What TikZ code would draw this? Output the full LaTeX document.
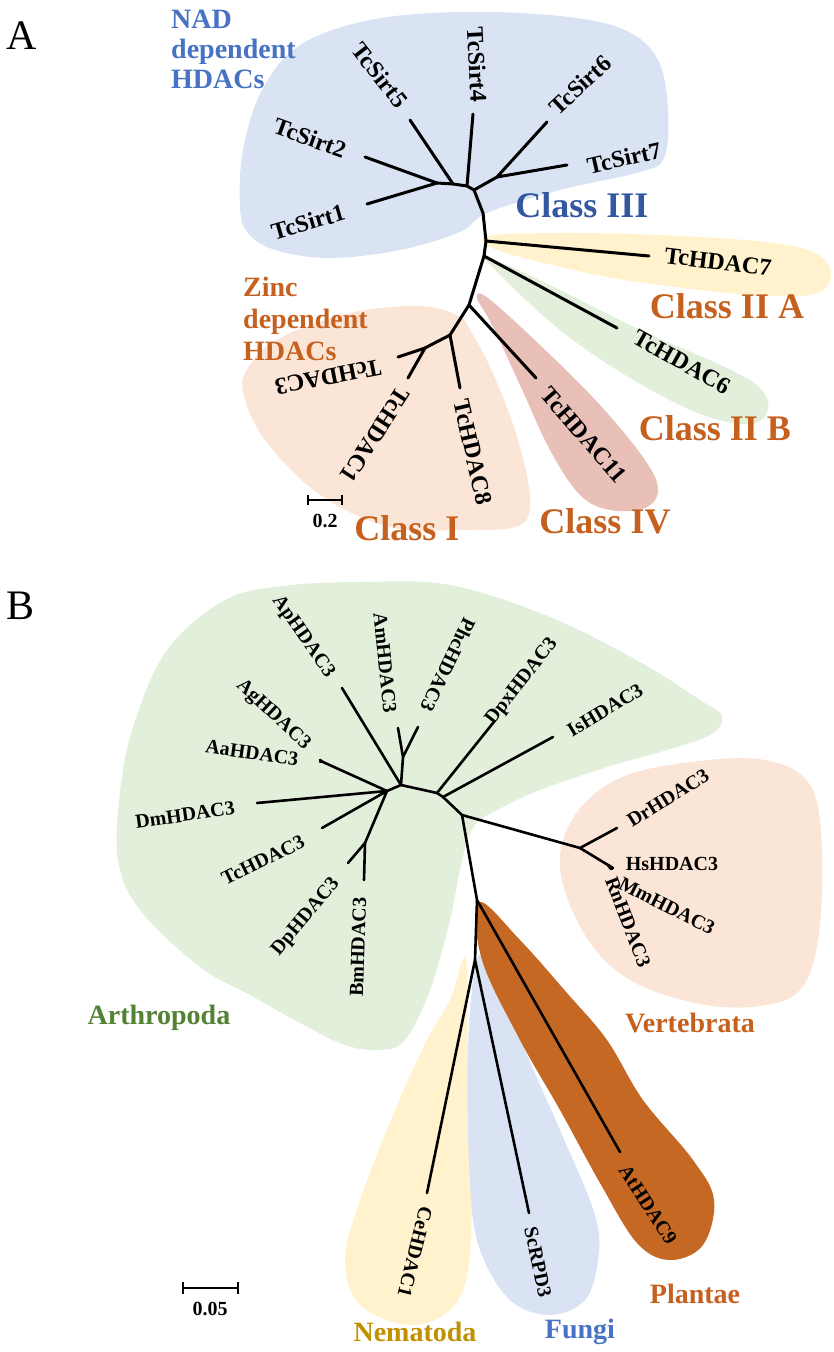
\documentclass[tikz,border=0pt]{standalone}
\usepackage{fontspec}
\setmainfont{Liberation Serif}
\definecolor{fBlue}{RGB}{218,227,243}
\definecolor{fYel}{RGB}{255,242,204}
\definecolor{fGrn}{RGB}{226,239,218}
\definecolor{fPch}{RGB}{251,229,214}
\definecolor{fRose}{RGB}{232,192,184}
\definecolor{fBrn}{RGB}{196,104,36}
\definecolor{tBlue}{RGB}{72,114,196}
\definecolor{tBlueD}{RGB}{52,88,160}
\definecolor{tOr}{RGB}{197,96,30}
\definecolor{tGrn}{RGB}{84,130,53}
\definecolor{tGold}{RGB}{191,144,0}
\begin{document}
\begin{tikzpicture}[x=1pt,y=-1pt,
  br/.style={line width=3pt,line cap=round,line join=round},
  brb/.style={line width=2.6pt,line cap=round,line join=round},
  lfa/.style={inner sep=0pt,font=\fontsize{24}{24}\selectfont\bfseries},
  lfb/.style={inner sep=0pt,font=\fontsize{20}{20}\selectfont\bfseries},
  cls/.style={inner sep=0pt,anchor=base,font=\fontsize{36}{36}\selectfont\bfseries,text=tOr},
  grp/.style={inner sep=0pt,anchor=base,font=\fontsize{28}{28}\selectfont\bfseries},
  hdr/.style={inner sep=0pt,anchor=base west,font=\fontsize{28}{28}\selectfont\bfseries},
  pan/.style={inner sep=0pt,font=\fontsize{42}{42}\selectfont},
  sbar/.style={line width=2.8pt},
  sfont/.style={inner sep=0pt,anchor=base,font=\fontsize{20}{20}\selectfont\bfseries}]
\useasboundingbox (0,0) rectangle (833,1352);

% ================= PANEL A =================
\node[pan] (pA) at (22,36) {A};

% blobs
\fill[fBlue] plot[smooth cycle,tension=0.6] coordinates {(240,205) (243,150) (262,90) (300,45) (370,20) (460,12) (560,16) (625,30) (658,60) (668,110) (664,158) (640,172) (560,190) (487,213) (460,232) (400,250) (330,258) (275,250) (247,232)};
\fill[fYel] plot[smooth cycle,tension=0.6] coordinates {(487,236) (560,233) (660,235) (766,242) (815,253) (831,273) (818,293) (770,296) (700,290) (613,278) (540,262) (492,248)};
\fill[fGrn] plot[smooth cycle,tension=0.6] coordinates {(490,258) (560,290) (640,330) (725,367) (760,388) (768,410) (750,424) (700,414) (630,378) (560,330) (495,270)};
\fill[fRose] plot[smooth cycle,tension=0.6] coordinates {(477,298) (492,325) (520,385) (550,450) (580,495) (610,510) (645,508) (658,490) (645,460) (600,405) (540,345) (488,298)};
\fill[fPch] plot[smooth cycle,tension=0.6] coordinates {(243,392) (250,365) (280,338) (350,313) (420,306) (458,316) (472,333) (495,378) (518,440) (530,500) (518,526) (460,530) (390,527) (320,495) (265,440)};

% header texts
\node[hdr,text=tBlue] (nad1) at (171,28) {NAD};
\node[hdr,text=tBlue] (nad2) at (171,58) {dependent};
\node[hdr,text=tBlue] (nad3) at (171,88) {HDACs};
\node[hdr,text=tOr] (zn1) at (243,296) {Zinc};
\node[hdr,text=tOr] (zn2) at (243,328) {dependent};
\node[hdr,text=tOr] (zn3) at (243,360) {HDACs};

% tree A coordinates
\coordinate (s12) at (437,183);
\coordinate (sA) at (453,184);
\coordinate (sB) at (467,186);
\coordinate (sC) at (474,190);
\coordinate (s67) at (497,177);
\coordinate (k1) at (483,213);
\coordinate (t1) at (486,241);
\coordinate (t2) at (484,256);
\coordinate (t3) at (469,305);
\coordinate (t4) at (450,335);
\coordinate (t5) at (425,348);
\coordinate (eS1) at (367,204);
\coordinate (eS2) at (365,157);
\coordinate (eS5) at (410,120);
\coordinate (eS4) at (473,114);
\coordinate (eS6) at (547,122);
\coordinate (eS7) at (567,165);
\coordinate (eH7) at (649,256);
\coordinate (eH6) at (617,328);
\coordinate (eH11) at (536,378);
\coordinate (eH8) at (460,388);
\coordinate (eH3) at (398,357);
\coordinate (eH1) at (408,378);

\draw[br] (eS2) -- (s12) -- (eS1);
\draw[br] (s12) -- (sA) -- (sB) -- (sC);
\draw[br] (sA) -- (eS5);
\draw[br] (sB) -- (eS4);
\draw[br] (eS6) -- (s67) -- (eS7);
\draw[br] (s67) -- (sC);
\draw[br] (sC) -- (k1) -- (t1) -- (t2) -- (t3) -- (t4) -- (t5);
\draw[br] (t1) -- (eH7);
\draw[br] (t2) -- (eH6);
\draw[br] (t3) -- (eH11);
\draw[br] (t4) -- (eH8);
\draw[br] (t5) -- (eH3);
\draw[br] (t5) -- (eH1);

% leaf labels A
\node[lfa,rotate=16] (lS1) at (308,222) {TcSirt1};
\node[lfa,rotate=-20] (lS2) at (310,138) {TcSirt2};
\node[lfa,rotate=-52] (lS5) at (380,75) {TcSirt5};
\node[lfa,rotate=-87] (lS4) at (477,65) {TcSirt4};
\node[lfa,rotate=43] (lS6) at (580,85) {TcSirt6};
\node[lfa,rotate=13] (lS7) at (624,158) {TcSirt7};
\node[lfa,rotate=-7] (lH7) at (718,262) {TcHDAC7};
\node[lfa,rotate=-29] (lH6) at (682,362) {TcHDAC6};
\node[lfa,rotate=-49] (lH11) at (584,435) {TcHDAC11};
\node[lfa,rotate=-77] (lH8) at (473,452) {TcHDAC8};
\node[lfa,rotate=-123] (lH1) at (375,435) {TcHDAC1};
\node[lfa,rotate=-169] (lH3) at (328,377) {TcHDAC3};

% class labels
\node[cls,text=tBlueD] (c3) at (582,217) {Class III};
\node[cls] (c2a) at (727,318) {Class II A};
\node[cls] (c2b) at (715,440) {Class II B};
\node[cls] (c4) at (605,533) {Class IV};
\node[cls] (c1) at (407,540) {Class I};

% scale bar A
\coordinate (sa1) at (308,500);
\coordinate (sa2) at (342,500);
\draw[sbar] (sa1) -- (sa2);
\draw[line width=2.4pt] ([yshift=5pt]sa1) -- ([yshift=-5pt]sa1);
\draw[line width=2.4pt] ([yshift=5pt]sa2) -- ([yshift=-5pt]sa2);
\node[sfont] (sa) at (325,527) {0.2};

% ================= PANEL B =================
\node[pan] (pB) at (21,606) {B};

\fill[fGrn] plot[smooth cycle,tension=0.6] coordinates {(283,586) (360,582) (450,585) (550,617) (640,662) (700,700) (722,716) (710,735) (660,752) (607,767) (540,790) (503,807) (475,825) (462,860) (450,920) (430,990) (405,1040) (380,1050) (345,1045) (300,1023) (250,995) (200,967) (140,910) (118,860) (120,793) (133,727) (167,650) (225,600)};
\fill[fPch] plot[smooth cycle,tension=0.6] coordinates {(560,868) (575,815) (620,778) (690,762) (765,760) (810,785) (822,850) (818,940) (800,990) (760,1006) (700,1004) (630,980) (585,935)};
\fill[fYel] plot[smooth cycle,tension=0.6] coordinates {(466,958) (450,1000) (427,1040) (395,1110) (360,1200) (345,1260) (360,1305) (410,1325) (450,1310) (468,1270) (472,1180) (468,1060)};
\fill[fBlue] plot[smooth cycle,tension=0.6] coordinates {(477,960) (468,1050) (470,1183) (480,1250) (510,1300) (550,1315) (585,1300) (598,1260) (595,1215) (560,1130) (525,1050) (495,970)};
\fill[fBrn] plot[smooth cycle,tension=0.6] coordinates {(479,902) (482,960) (520,1040) (560,1110) (600,1183) (637,1243) (670,1260) (703,1245) (714,1200) (693,1160) (643,1100) (607,1040) (567,993) (520,940)};

% tree B coordinates
\coordinate (c1) at (401,785);
\coordinate (pa) at (403,757);
\coordinate (c2) at (387,791);
\coordinate (fa) at (323,762);
\coordinate (dpb) at (365,843);
\coordinate (c3) at (437,793);
\coordinate (c4) at (443,797);
\coordinate (c5) at (462,815);
\coordinate (vv) at (580,848);
\coordinate (vh) at (608,865);
\coordinate (pp) at (477,900);
\coordinate (ff) at (475,960);
\coordinate (eAp) at (342,688);
\coordinate (eAm) at (398,728);
\coordinate (ePhc) at (418,727);
\coordinate (eAg) at (320,760);
\coordinate (eAa) at (320,762);
\coordinate (eDm) at (257,803);
\coordinate (eTc) at (322,828);
\coordinate (eDp) at (348,863);
\coordinate (eBm) at (364,880);
\coordinate (eDpx) at (493,723);
\coordinate (eIs) at (553,737);
\coordinate (eDr) at (617,828);
\coordinate (eHs) at (613,868);
\coordinate (eMm) at (612,869);
\coordinate (eRn) at (611,869);
\coordinate (eAt) at (620,1152);
\coordinate (eCe) at (427,1193);
\coordinate (eSc) at (529,1213);

\draw[brb] (c1) -- (eAp);
\draw[brb] (c1) -- (pa) -- (eAm);
\draw[brb] (pa) -- (ePhc);
\draw[brb] (c1) -- (c2) -- (eDm);
\draw[brb] (c2) -- (fa) -- (eAg);
\draw[brb] (fa) -- (eAa);
\draw[brb] (c2) -- (eTc);
\draw[brb] (c2) -- (dpb) -- (eDp);
\draw[brb] (dpb) -- (eBm);
\draw[brb] (c1) -- (c3) -- (eDpx);
\draw[brb] (c3) -- (c4) -- (eIs);
\draw[brb] (c4) -- (c5) -- (vv) -- (eDr);
\draw[brb] (vv) -- (vh) -- (eHs);
\draw[brb] (vh) -- (eMm);
\draw[brb] (vh) -- (eRn);
\draw[brb] (c5) -- (pp) -- (eAt);
\draw[brb] (pp) -- (ff) -- (eCe);
\draw[brb] (ff) -- (eSc);

% leaf labels B
\node[lfb,rotate=-55] (lAp) at (303,637) {ApHDAC3};
\node[lfb,rotate=-84] (lAm) at (385,663) {AmHDAC3};
\node[lfb,rotate=-116] (lPhc) at (448,665) {PhcHDAC3};
\node[lfb,rotate=52] (lDpx) at (522,682) {DpxHDAC3};
\node[lfb,rotate=31] (lIs) at (605,710) {IsHDAC3};
\node[lfb,rotate=-43] (lAg) at (273,715) {AgHDAC3};
\node[lfb,rotate=-8] (lAa) at (252,753) {AaHDAC3};
\node[lfb,rotate=8] (lDm) at (185,815) {DmHDAC3};
\node[lfb,rotate=26] (lTc) at (263,860) {TcHDAC3};
\node[lfb,rotate=50] (lDp) at (306,917) {DpHDAC3};
\node[lfb,rotate=88] (lBm) at (358,947) {BmHDAC3};
\node[lfb,rotate=32] (lDr) at (668,798) {DrHDAC3};
\node[lfb,rotate=0] (lHs) at (672,864) {HsHDAC3};
\node[lfb,rotate=-27] (lMm) at (667,906) {MmHDAC3};
\node[lfb,rotate=-69] (lRn) at (628,922) {RnHDAC3};
\node[lfb,rotate=-104] (lCe) at (415,1252) {CeHDAC1};
\node[lfb,rotate=-78] (lSc) at (538,1262) {ScRPD3};
\node[lfb,rotate=-57] (lAt) at (648,1205) {AtHDAC9};

% group labels B
\node[grp,text=tGrn] (gAr) at (159,1024) {Arthropoda};
\node[grp,text=tOr] (gVe) at (690,1032) {Vertebrata};
\node[grp,text=tOr] (gPl) at (695,1303) {Plantae};
\node[grp,text=tGold] (gNe) at (415,1341) {Nematoda};
\node[grp,text=tBlue] (gFu) at (580,1338) {Fungi};

% scale bar B
\coordinate (sb1) at (183,1288);
\coordinate (sb2) at (238,1288);
\draw[sbar] (sb1) -- (sb2);
\draw[line width=2.4pt] ([yshift=6pt]sb1) -- ([yshift=-6pt]sb1);
\draw[line width=2.4pt] ([yshift=6pt]sb2) -- ([yshift=-6pt]sb2);
\node[sfont] (sb) at (210,1315) {0.05};
\end{tikzpicture}
\end{document}
